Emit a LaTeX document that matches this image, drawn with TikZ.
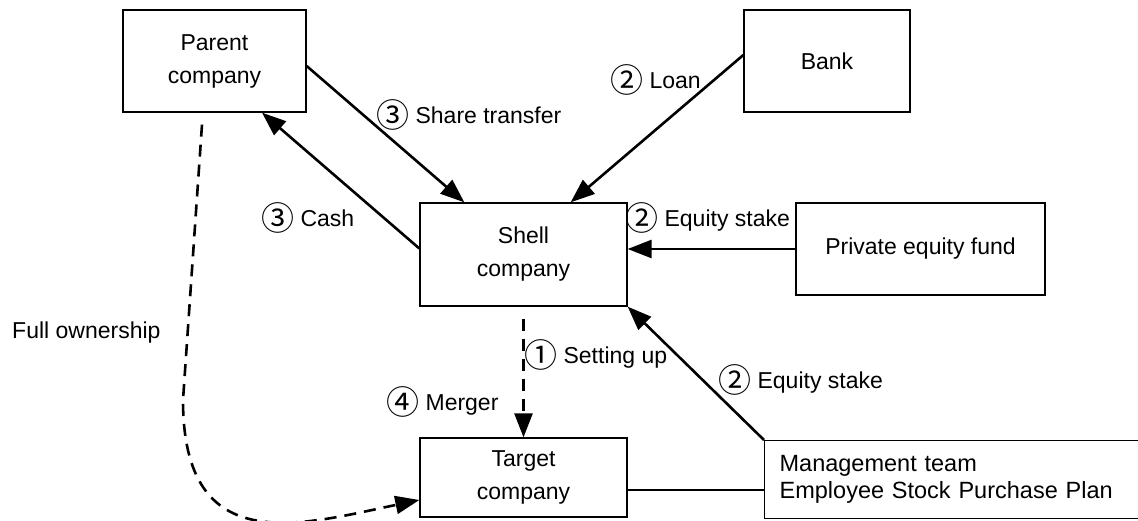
\documentclass[tikz,border=0pt]{standalone}
\usepackage{fontspec}
\setmainfont{Liberation Sans}
\newfontfamily\cjk{Noto Sans CJK JP}
\usetikzlibrary{arrows.meta}
\newcommand{\stepno}[1]{\raisebox{-4pt}{\cjk\fontsize{33}{33}\selectfont #1}}

\begin{document}
\begin{tikzpicture}[x=1pt,y=-1pt,
    font=\fontsize{23}{33}\selectfont,
    box/.style={draw, line width=1.3pt, align=center, inner sep=0pt},
    flow/.style={line width=2.6pt, -{Triangle[length=24pt,width=18pt]}},
    dflow/.style={flow, dash pattern=on 12pt off 8pt},
    lbl/.style={inner sep=0pt, anchor=west}]
    \useasboundingbox (0,0) rectangle (1138,521);
    % parties
    \node[box, minimum width=183pt, minimum height=102pt] (parent) at (214.5,61) {Parent\\company};
    \node[box, minimum width=166pt, minimum height=102pt] (bank) at (827,61) {Bank};
    \node[box, minimum width=207pt, minimum height=103pt] (shell) at (523.5,254.5) {Shell\\company};
    \node[box, minimum width=249pt, minimum height=92pt] (pe) at (920.5,249) {Private equity fund};
    \node[box, minimum width=207pt, minimum height=79pt] (target) at (523.5,477.5) {Target\\company};
    \node[box, anchor=north west, minimum width=390pt, minimum height=78pt, align=left,
        text width=360pt, inner xsep=15pt, font=\fontsize{23.5}{27}\selectfont]
        (mgmt) at (764,440) {Management team\\Employee Stock Purchase Plan};
    % flows
    \draw[flow] ([yshift=-5pt]parent.east) -- ([xshift=45pt]shell.north west);
    \draw[flow] ([yshift=6pt]shell.west) -- ([xshift=47.5pt]parent.south);
    \draw[flow] ([yshift=6pt]bank.west) -- ([xshift=-57pt]shell.north east);
    \draw[flow] (pe.west) -- (pe.west -| shell.east);
    \draw[flow] (mgmt.north west) -- (shell.south east);
    \draw[dflow] ([yshift=-12pt]shell.south) -- (target.north);
    \coordinate (bend) at (183,400);
    \draw[dflow] ([xshift=-12.5pt,yshift=-12pt]parent.south) -- (bend)
        .. controls (183,560) and (300,525) .. ([yshift=-22.5pt]target.west);
    \draw[line width=1.3pt] ([yshift=-12.5pt]target.east) -- ([yshift=-12.5pt]target.east -| mgmt.west);
    % labels
    \node[lbl] (l1) at (376,115) {\stepno{③} Share transfer};
    \node[lbl] (l2) at (610,80) {\stepno{②} Loan};
    \node[lbl] (l3) at (261,218) {\stepno{③} Cash};
    \node[lbl] (l4) at (625,218) {\stepno{②} Equity stake};
    \node[lbl] (l5) at (524,355) {\stepno{①} Setting up};
    \node[lbl] (l6) at (718,380) {\stepno{②} Equity stake};
    \node[lbl] (l7) at (386,402) {\stepno{④} Merger};
    \node[lbl] (l8) at (12,333) {Full ownership};
\end{tikzpicture}
\end{document}
